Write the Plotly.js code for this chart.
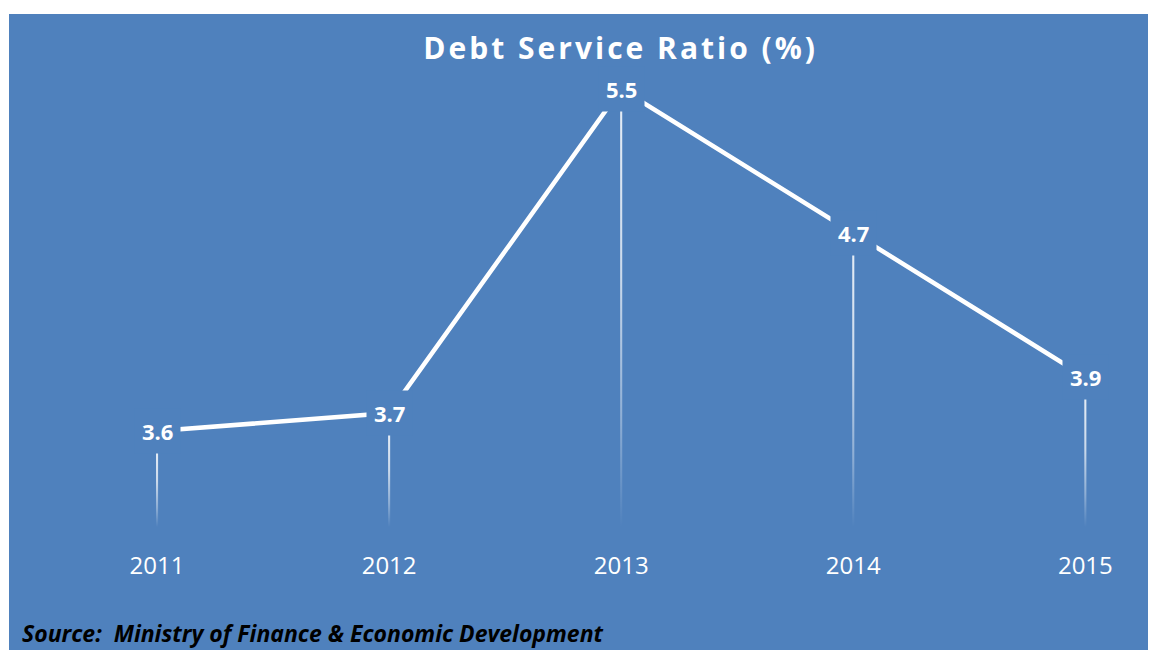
<!DOCTYPE html>
<html>
<head>
<meta charset="utf-8">
<script src="https://cdn.plot.ly/plotly-3.0.1.min.js"></script>
<style>
  html, body { margin: 0; padding: 0; background: #ffffff; }
  #chart { position: absolute; left: 9px; top: 14px; width: 1139px; height: 636px; }
  #chart .gtitle { letter-spacing: 3px; }
</style>
</head>
<body>
<div id="chart"></div>
<script>
const years = ['2011', '2012', '2013', '2014', '2015'];
const ratio = [3.6, 3.7, 5.5, 4.7, 3.9];
const chartTitle = 'Debt Service Ratio (%)';
const sourceNote = '<b><i>Source:  Ministry of Finance &amp; Economic Development</i></b>';

const BG = '#4F81BD';
const yMin = 3.067, yMax = 5.55;
const xs = years.map((_, i) => i);

const traces = [];

// drop lines (gradient, from just below each label down to the axis)
const dropGap = 0.11, halfW = 0.0045;
xs.forEach((x, i) => {
  traces.push({
    type: 'scatter', mode: 'none', hoverinfo: 'skip', showlegend: false,
    x: [x - halfW, x + halfW, x + halfW, x - halfW, x - halfW],
    y: [yMin, yMin, ratio[i] - dropGap, ratio[i] - dropGap, yMin],
    fill: 'toself',
    fillgradient: {
      type: 'vertical',
      colorscale: [[0, 'rgba(255,255,255,0)'], [0.25, 'rgba(255,255,255,0.35)'], [0.6, 'rgba(255,255,255,0.7)'], [1, 'rgba(255,255,255,0.85)']]
    }
  });
});

// main line
traces.push({
  type: 'scatter', mode: 'lines', x: xs, y: ratio,
  line: { color: '#ffffff', width: 4.5 },
  hoverinfo: 'skip', showlegend: false
});

const annotations = xs.map((x, i) => ({
  x: x, y: ratio[i], xref: 'x', yref: 'y',
  text: '<b>' + ratio[i].toFixed(1) + '</b>',
  showarrow: false, bgcolor: BG, borderpad: 7,
  font: { family: 'Open Sans', size: 22, color: '#ffffff' },
  xanchor: 'center', yanchor: 'middle'
}));

annotations.push({
  xref: 'paper', yref: 'paper', x: -0.019, y: -0.238,
  xanchor: 'left', yanchor: 'middle', showarrow: false,
  text: sourceNote,
  font: { family: 'Open Sans', size: 23, color: '#000000' }
});

const layout = {
  width: 1139, height: 636,
  paper_bgcolor: BG, plot_bgcolor: BG,
  margin: { l: 32, r: 0, t: 66, b: 123 },
  showlegend: false,
  title: {
    text: '<b>' + chartTitle + '</b>',
    xref: 'container', yref: 'container',
    x: 0.537, y: 0.9465, xanchor: 'center', yanchor: 'middle',
    font: { family: 'Open Sans', size: 30, color: '#ffffff' }
  },
  xaxis: {
    range: [-0.5, 4.27], showgrid: false, zeroline: false, showline: false,
    tickmode: 'array', tickvals: xs, ticktext: years, ticks: '',
    ticklabelstandoff: 22,
    tickfont: { family: 'Open Sans', size: 24, color: '#ffffff' },
    fixedrange: true
  },
  yaxis: {
    range: [yMin, yMax], showgrid: false, zeroline: false, showline: false,
    showticklabels: false, ticks: '', fixedrange: true
  },
  annotations: annotations
};

Plotly.newPlot('chart', traces, layout, { displayModeBar: false, staticPlot: true });
</script>
</body>
</html>
